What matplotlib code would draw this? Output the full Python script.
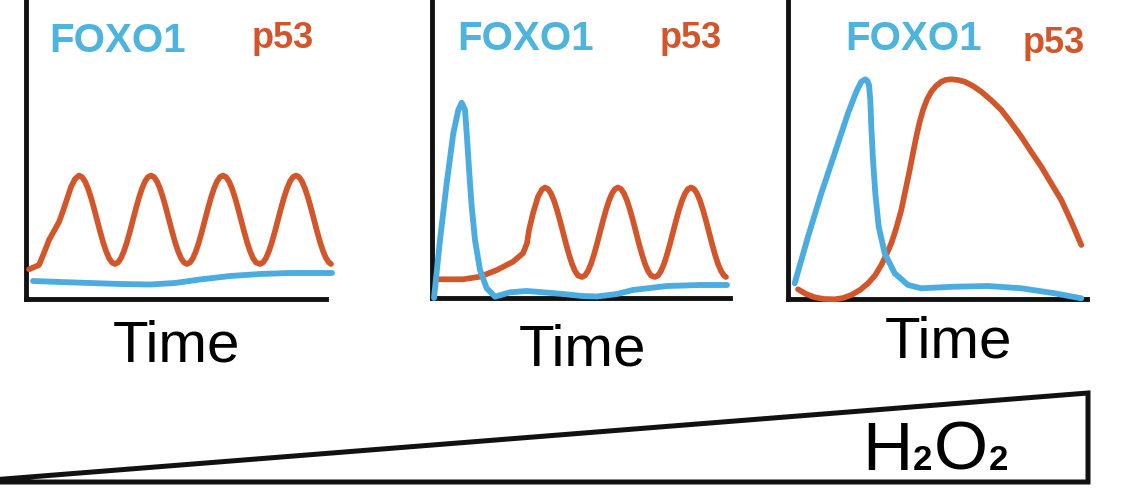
import matplotlib
matplotlib.use("Agg")
import matplotlib.pyplot as plt
from matplotlib.patches import Polygon

# ---------------- data (arbitrary units: time, level) ----------------
# Panel 1: low H2O2 -> p53 oscillates, FOXO1 stays low
p1_p53_t = [3, 13, 18, 23, 28, 33, 37, 41, 45, 49,
            53, 56, 59, 62, 65, 68, 71, 74, 77, 80, 83, 86, 89,
            92, 95, 98, 101, 104, 107, 110, 113, 116, 119, 122, 125,
            128, 131, 134, 137, 140, 143, 146, 149, 152, 155, 158, 161,
            164, 167, 170, 173, 176, 179, 182, 185, 188, 191, 194, 197,
            200, 203, 206, 209, 212, 215, 218, 221, 224, 227, 230, 234,
            237, 240, 243, 246, 249, 252, 255, 258, 261, 264, 267, 270,
            273, 276, 279, 282, 285, 288, 291, 294, 297, 300, 303, 305]
p1_p53_v = [29.7, 34, 46, 59, 68, 77, 88, 100, 112, 120,
            123.5, 122, 117.6, 110.5, 101.4, 90.7, 79.3, 67.8, 57.1, 48, 40.9, 36.5, 35,
            36.5, 40.9, 48, 57.1, 67.8, 79.3, 90.7, 101.4, 110.5, 117.6, 122, 123.5,
            122, 117.6, 110.5, 101.4, 90.7, 79.3, 67.8, 57.1, 48, 40.9, 36.5, 35,
            36.5, 40.9, 48, 57.1, 67.8, 79.3, 90.7, 101.4, 110.5, 117.6, 122, 123.5,
            122, 117.6, 110.5, 101.4, 90.7, 79.3, 67.8, 57.1, 48, 40.9, 36.5, 35,
            36.5, 40.9, 48, 57.1, 67.8, 79.3, 90.7, 101.4, 110.5, 117.6, 122, 123.5,
            122, 117.6, 110.5, 101.4, 90.7, 79.3, 67.8, 57.1, 48, 40.9, 36.5, 35]
p1_foxo_t = [7, 34, 64, 94, 124, 149, 174, 204, 234, 264, 306]
p1_foxo_v = [18, 17, 16, 15, 14.5, 16, 19.5, 23, 25, 26, 26]

# Panel 2: medium H2O2 -> FOXO1 pulse, then p53 oscillates
p2_foxo_t = [2, 8, 14.7, 21.3, 26.3, 29.7, 33, 34.7, 37.3, 39.7, 43, 48, 54.7, 63,
             78, 94.7, 111.3, 131, 150, 165, 185, 201, 235, 268, 295]
p2_foxo_v = [0, 58, 114.7, 164.7, 188, 195.3, 188, 164.7, 124.7, 91.3, 58, 28, 9.7, 1.3,
             5.7, 7, 5.7, 4, 2, 1.5, 4, 8, 12, 13, 13]
p2_p53_t = [6, 31, 48, 65, 81, 91, 95, 97, 101, 106, 110,
            113, 116, 119, 122, 125, 128, 131, 134, 137, 140, 143, 146, 150,
            153, 156, 159, 162, 165, 168, 171, 174, 177, 180, 183, 186,
            189, 192, 195, 198, 201, 204, 207, 210, 213, 216, 219, 223,
            226, 229, 232, 235, 238, 241, 244, 247, 250, 253, 256, 259,
            262, 265, 268, 271, 274, 277, 280, 283, 286, 289, 292, 294]
p2_p53_v = [18.7, 18.7, 21.3, 28, 36.3, 44.7, 54.7, 68, 84.7, 101.3, 108.5,
            110.5, 109, 104.5, 97.4, 88.1, 77.3, 65.8, 54.2, 43.4, 34.1, 27, 22.5, 21,
            22.5, 27, 34.1, 43.4, 54.2, 65.8, 77.3, 88.1, 97.4, 104.5, 109, 110.5,
            109, 104.5, 97.4, 88.1, 77.3, 65.8, 54.2, 43.4, 34.1, 27, 22.5, 21,
            22.5, 27, 34.1, 43.4, 54.2, 65.8, 77.3, 88.1, 97.4, 104.5, 109, 110.5,
            109, 104.5, 97.4, 88.1, 77.3, 65.8, 54.2, 43.4, 34.1, 27, 22.5, 21]

# Panel 3: high H2O2 -> broad FOXO1 pulse, then sustained p53
p3_foxo_t = [6.7, 20, 33.3, 46.7, 60, 68.3, 73.3, 77.3, 79.5, 81, 82.3, 83.3, 85, 87.3, 90.7,
             96.7, 106.7, 120, 133.3, 166.7, 200, 233.3, 266.7, 293.3]
p3_foxo_v = [15.7, 62.3, 105.7, 145.7, 185.7, 207.3, 217.3, 219.7, 218, 214, 199, 172.3, 139,
             105.7, 72.3, 45.7, 25.7, 14, 10.7, 12.3, 13, 10.7, 5.7, 0.7]
p3_p53_t = [10, 18, 26.7, 36, 46.7, 55, 63.3, 72, 80, 87, 93.3, 98, 103.3, 108, 113.3, 117.5,
            121.7, 125, 128.3, 131.5, 135, 139, 143.3, 148, 153.3, 158, 163.3, 170, 176.7,
            185, 193.3, 203, 213.3, 223, 233.3, 243, 253.3, 263, 273.3, 283, 293.3]
p3_p53_v = [9.7, 5, 1.7, 0, -0.3, 1, 4, 9, 15.7, 23.5, 34, 43.5, 55.7, 70, 89, 109,
            129, 146, 162.3, 176.5, 189, 199.5, 207.3, 213, 217.3, 219.2, 219.7, 219, 217.3,
            213, 207.3, 199, 189, 176.5, 162.3, 147.5, 132.3, 116, 99, 78, 54]

panels = [
    (p1_foxo_t, p1_foxo_v, p1_p53_t, p1_p53_v),
    (p2_foxo_t, p2_foxo_v, p2_p53_t, p2_p53_v),
    (p3_foxo_t, p3_foxo_v, p3_p53_t, p3_p53_v),
]

# H2O2 dose wedge (relative position, relative dose)
dose_pos = [0.0, 1.0, 1.0, 0.0]
dose_lvl = [0.03, 1.0, 0.0, 0.0]

# ---------------- layout ----------------
W, H = 1140, 495
BLUE = "#4AACDF"
BLUE_TXT = "#4DB4DD"
ORANGE = "#D3552A"

fig = plt.figure(figsize=(W / 100, H / 100), dpi=100)

# (axis x pixel, axis y pixel, x-axis right end)
frames = [(26, 299, 326), (432, 298, 730), (788, 299, 1087)]
label_pos = [  # FOXO1 (left, baseline), p53 (left, baseline), Time (center, baseline)
    ((49, 52), (252, 48), (176, 362)),
    ((457, 50), (660, 48), (582, 365)),
    ((845, 50), (1023, 53), (948, 358)),
]


def fx(px):
    return px / W


def fy(py):
    return 1 - py / H


for (x0, y0, xe), (ft, fv, pt, pv), (lf, lp, lt) in zip(frames, panels, label_pos):
    aw = 320
    ax = fig.add_axes([fx(x0), fy(y0), aw / W, y0 / H])
    ax.set_xlim(0, aw)
    ax.set_ylim(0, y0)
    ax.patch.set_visible(False)
    ax.set_xticks([])
    ax.set_yticks([])
    for s in ("top", "right"):
        ax.spines[s].set_visible(False)
    for s in ("left", "bottom"):
        ax.spines[s].set_linewidth(3.5)
        ax.spines[s].set_color("#111111")
        ax.spines[s].set_capstyle("projecting")
    ax.spines["bottom"].set_bounds(0, xe - x0)
    ax.plot(pt, pv, color=ORANGE, lw=4.1, clip_on=False, zorder=3,
            solid_capstyle="round", solid_joinstyle="round")
    ax.plot(ft, fv, color=BLUE, lw=4.2, clip_on=False, zorder=4,
            solid_capstyle="round", solid_joinstyle="round")

    fig.text(fx(lf[0]), fy(lf[1]), "FOXO1", color=BLUE_TXT, fontsize=29, fontweight="bold",
             family="Liberation Sans", ha="left", va="baseline")
    fig.text(fx(lp[0]), fy(lp[1]), "p53", color=ORANGE, fontsize=26, fontweight="bold",
             family="Liberation Sans", ha="left", va="baseline")
    fig.text(fx(lt[0]), fy(lt[1]), "Time", color="black", fontsize=42,
             family="Liberation Sans", ha="center", va="baseline")

# wedge
wx0, wy_bot, wx1, wy_top = 0, 482, 1088, 393
wax = fig.add_axes([fx(wx0), fy(wy_bot), (wx1 - wx0) / W, (wy_bot - wy_top) / H])
wax.set_xlim(0, 1)
wax.set_ylim(0, 1)
wax.axis("off")
wax.add_patch(Polygon(list(zip(dose_pos, dose_lvl)), closed=True, fill=False,
                      edgecolor="#111111", lw=3.6, joinstyle="miter", clip_on=False))

fig.text(fx(862), fy(470), "H", fontsize=50, family="Liberation Sans", ha="left", va="baseline")
fig.text(fx(913), fy(470), "2", fontsize=25, fontweight="bold", family="Liberation Sans",
         ha="left", va="baseline")
fig.text(fx(934), fy(470), "O", fontsize=50, family="Liberation Sans", ha="left", va="baseline")
fig.text(fx(989), fy(470), "2", fontsize=25, fontweight="bold", family="Liberation Sans",
         ha="left", va="baseline")

fig.savefig("out.png", dpi=100)
